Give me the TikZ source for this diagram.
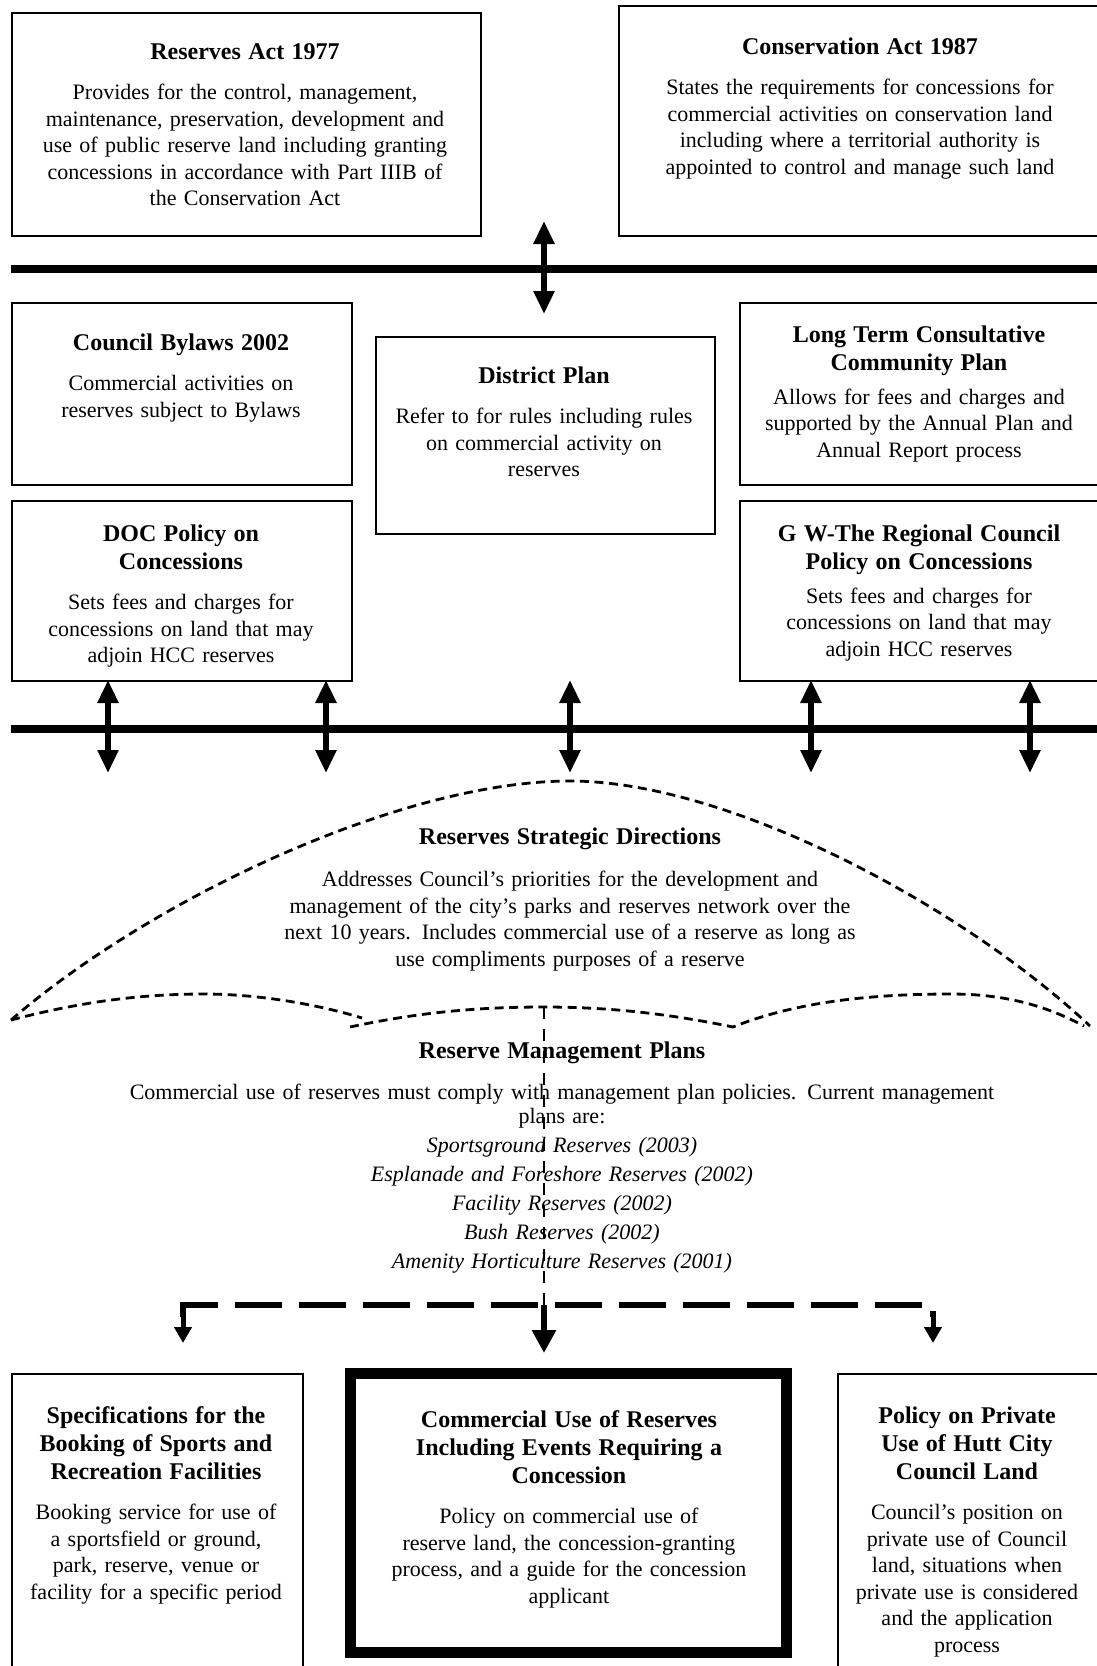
\documentclass[tikz,border=0pt]{standalone}
\usepackage{fontspec}
\setmainfont{Liberation Serif}
\usetikzlibrary{arrows.meta}

\newcommand\heading[2][7pt]{{\fontsize{12}{14}\selectfont\bfseries #2\par}\vspace{#1}}

\begin{document}
\begin{tikzpicture}[x=0.5pt,y=-0.5pt,
  >={Triangle[length=11.5pt,width=10pt]},
  box/.style={draw,line width=0.9pt,anchor=north west,inner sep=0pt},
  txt/.style={anchor=north,align=center,inner sep=0pt,font=\fontsize{11}{13.25}\selectfont},
  heavyline/.style={line width=4pt},
  twoway/.style={<->,line width=2.8pt},
  domeline/.style={line width=1.4pt,dash pattern=on 4.5pt off 2.8pt},
  thindash/.style={line width=0.6pt,dash pattern=on 6pt off 5pt},
  forkline/.style={line width=2.6pt,dash pattern=on 23.5pt off 8.5pt},
  downtip/.style={-{Triangle[length=8pt,width=8.5pt]},line width=2.5pt},
  downtipbig/.style={-{Triangle[length=11.5pt,width=11.5pt]},line width=3pt}]

\useasboundingbox (0,0) rectangle (1097,1666);

% acts
\node[box,minimum width=234.5pt,minimum height=111.5pt] (actres) at (11,12) {};
\node[txt,text width=228pt] (actresT) at (245,43) {\heading{Reserves Act 1977}Provides for the control, management,\\maintenance, preservation, development and\\use of public reserve land including granting\\concessions in accordance with Part IIIB of\\the Conservation Act};
\node[box,minimum width=243pt,minimum height=115pt] (actcon) at (618,5) {};
\node[txt,text width=235pt] (actconT) at (860,37) {\heading{Conservation Act 1987}States the requirements for concessions for\\commercial activities on conservation land\\including where a territorial authority is\\appointed to control and manage such land};

\coordinate (bar1w) at (11,269);
\coordinate (bar1e) at (1097,269);
\draw[heavyline] (bar1w) -- (bar1e);
\coordinate (linkT) at (544,221);
\coordinate (linkB) at (544,314);
\draw[twoway] (linkT) -- (linkB);

% council plans and policies
\node[box,minimum width=170pt,minimum height=91pt] (bylaws) at (11,302) {};
\node[txt,text width=164pt] (bylawsT) at (181,333) {\heading{Council Bylaws 2002}Commercial activities on\\reserves subject to Bylaws};
\node[box,minimum width=169.5pt,minimum height=98.5pt] (distplan) at (375,336) {};
\node[txt,text width=164pt] (distplanT) at (544,366) {\heading{District Plan}Refer to for rules including rules\\on commercial activity on\\reserves};
\node[box,minimum width=182.5pt,minimum height=91pt] (ltccp) at (739,302) {};
\node[txt,text width=176pt] (ltccpT) at (919,325) {\heading[3.75pt]{Long Term Consultative\\Community Plan}Allows for fees and charges and\\supported by the Annual Plan and\\Annual Report process};
\node[box,minimum width=170pt,minimum height=90pt] (docpol) at (11,500) {};
\node[txt,text width=164pt] (docpolT) at (181,524) {\heading{DOC Policy on\\Concessions}Sets fees and charges for\\concessions on land that may\\adjoin HCC reserves};
\node[box,minimum width=182.5pt,minimum height=90pt] (gwrc) at (739,500) {};
\node[txt,text width=176pt] (gwrcT) at (919,524) {\heading[3.75pt]{G W-The Regional Council\\Policy on Concessions}Sets fees and charges for\\concessions on land that may\\adjoin HCC reserves};

\coordinate (bar2w) at (11,729);
\coordinate (bar2e) at (1097,729);
\draw[heavyline] (bar2w) -- (bar2e);
\foreach \x [count=\i] in {108,326,570,811,1030} {
  \coordinate (up\i) at (\x,680);
  \coordinate (dn\i) at (\x,773);
  \draw[twoway] (up\i) -- (dn\i);
}

% strategic directions and management plans
\draw[domeline] (11,1020) .. controls (150,900) and (400,781) .. (570,781)
  .. controls (728,781) and (961,905) .. (1090,1026);
\draw[domeline] (11,1020) .. controls (80,1002) and (140,994) .. (204,994)
  .. controls (260,994) and (320,1005) .. (362,1018);
\draw[domeline] (350,1027) .. controls (420,1012) and (480,1007) .. (544,1007)
  .. controls (610,1007) and (670,1014) .. (733,1027)
  .. controls (800,1000) and (880,994) .. (951,994)
  .. controls (1010,994) and (1050,1008) .. (1084,1026);
\node[txt,text width=330pt] (stratT) at (570,827) {\heading[8pt]{Reserves Strategic Directions}Addresses Council's priorities for the development and\\management of the city's parks and reserves network over the\\next 10 years. Includes commercial use of a reserve as long as\\use compliments purposes of a reserve};
\node[txt,text width=480pt] (rmpT) at (562,1041) {\heading[8.5pt]{Reserve Management Plans}{\fontsize{11}{12}\selectfont Commercial use of reserves must comply with management plan policies. Current management\\plans are:\par}{\itshape\fontsize{11}{14.5}\selectfont Sportsground Reserves (2003)\\Esplanade and Foreshore Reserves (2002)\\Facility Reserves (2002)\\Bush Reserves (2002)\\Amenity Horticulture Reserves (2001)\par}};

\coordinate (rmpTop) at (544,1007);
\coordinate (fork) at (544,1305);
\coordinate (forkL) at (183,1305);
\coordinate (forkR) at (933,1305);
\draw[thindash] (rmpTop) -- (fork);
\draw[forkline] (forkL) ++(0,12) -- (forkL) -- (forkR) -- ++(0,12);
\coordinate (stemL) at (183,1312);
\coordinate (stemR) at (933,1312);
\coordinate (tipL) at (183,1343);
\coordinate (tipR) at (933,1343);
\coordinate (tipC) at (544,1353);
\draw[downtip] (stemL) -- (tipL);
\draw[downtip] (stemR) -- (tipR);
\draw[downtipbig] (fork) -- (tipC);

% policies
\node[box,minimum width=145.5pt,minimum height=151pt] (specs) at (11,1373) {};
\node[txt,text width=140pt] (specsT) at (156,1406) {\heading{Specifications for the\\Booking of Sports and\\Recreation Facilities}Booking service for use of\\a sportsfield or ground,\\park, reserve, venue or\\facility for a specific period};
\node[box,line width=5.5pt,minimum width=218pt,minimum height=139.5pt] (commuse) at (345,1368) {};
\node[txt,text width=205pt] (commuseT) at (569,1410) {\heading{Commercial Use of Reserves\\Including Events Requiring a\\Concession}Policy on commercial use of\\reserve land, the concession-granting\\process, and a guide for the concession\\applicant};
\node[box,minimum width=133.5pt,minimum height=151pt] (privuse) at (837,1373) {};
\node[txt,text width=128pt] (privuseT) at (967,1406) {\heading{Policy on Private\\Use of Hutt City\\Council Land}Council's position on\\private use of Council\\land, situations when\\private use is considered\\and the application\\process};

\end{tikzpicture}
\end{document}
